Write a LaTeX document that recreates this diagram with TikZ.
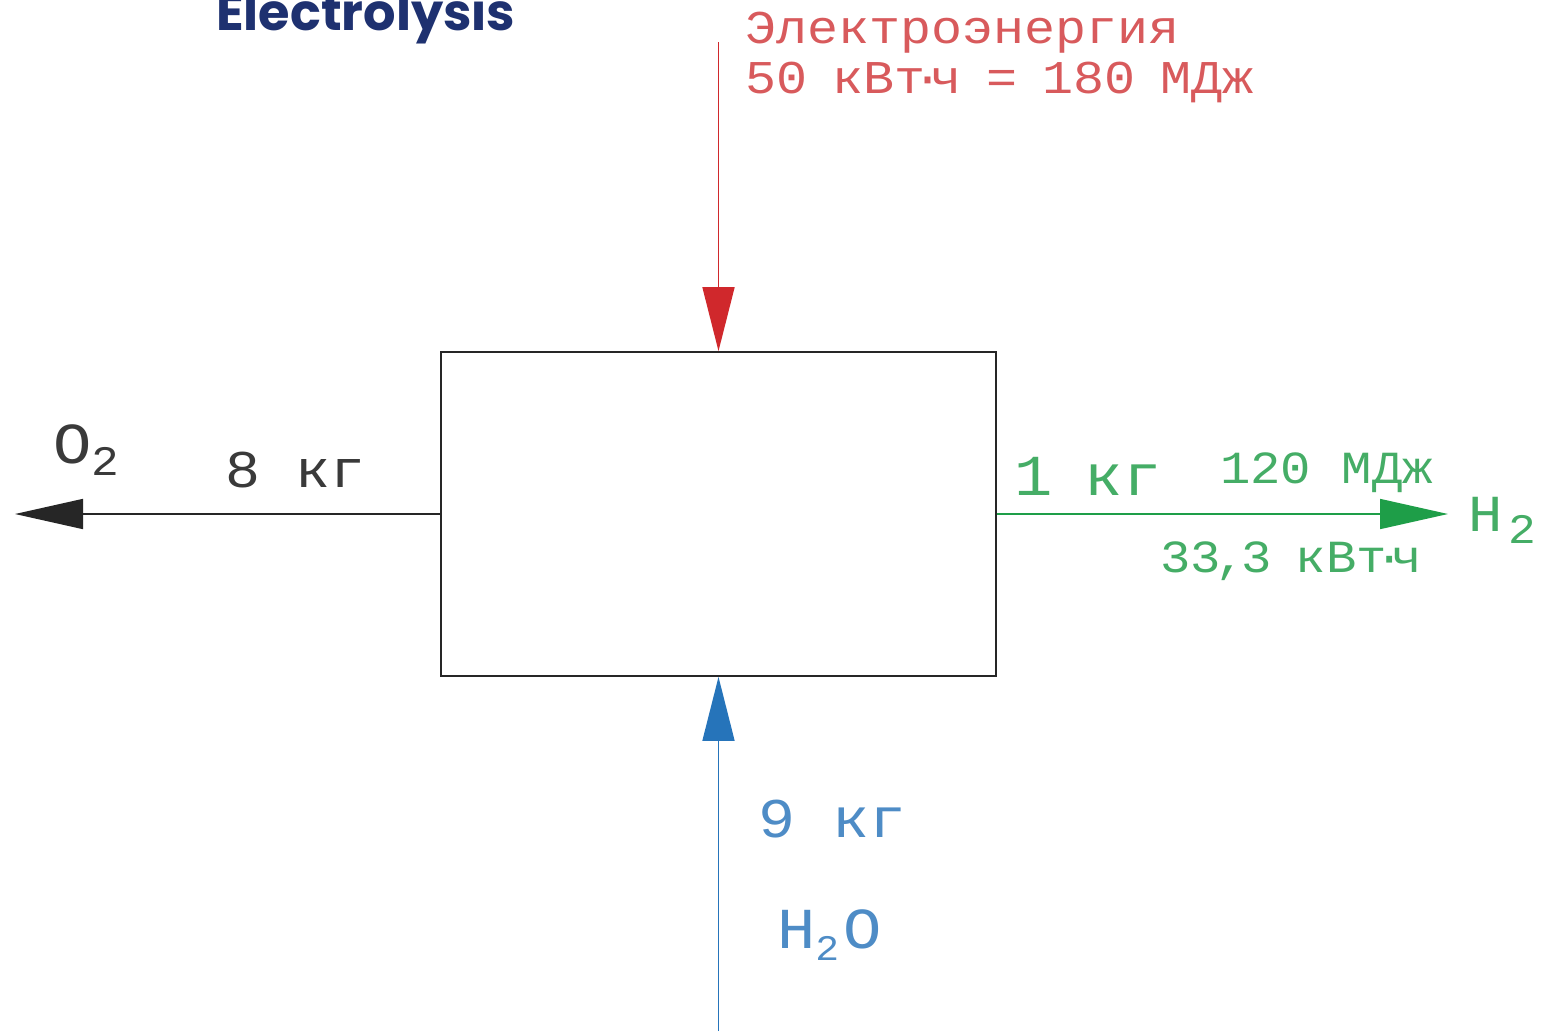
\documentclass[tikz,border=0pt]{standalone}
\usepackage{fontspec}
\usetikzlibrary{arrows.meta}
\newfontfamily\cadfont[FakeStretch=1.1]{Liberation Mono}
\newfontfamily\titlefont{Poppins}
\definecolor{redc}{HTML}{D0282C}
\definecolor{redt}{HTML}{D85A5C}
\definecolor{greenc}{HTML}{1E9E48}
\definecolor{greent}{HTML}{45AD66}
\definecolor{bluec}{HTML}{2674BA}
\definecolor{bluet}{HTML}{4E8CC6}
\definecolor{blackt}{HTML}{3A3A3A}
\definecolor{navy}{HTML}{1E3170}
\newcommand\cadsub[3]{{\fontsize{#1}{#1}\selectfont\raisebox{#2}{#3}}}
\newcommand\dotkern{\kern-13pt·\kern-13pt}
\newcommand\tsp{ \kern-6pt}
\begin{document}
\begin{tikzpicture}[x=1pt,y=-1pt,
  lbl/.style={anchor=base west, inner sep=0pt},
  flow/.style={line width=1.6pt},
  tipv/.style={-{Triangle[length=64pt,width=32pt]}},
  tiph/.style={-{Triangle[length=68pt,width=30pt]}}]
\useasboundingbox (0,0) rectangle (1549,1031);
\fill[white] (0,0) rectangle (1549,1031);
\node[draw=black!85, line width=1.8pt, minimum width=555pt, minimum height=324pt, inner sep=0pt] (box) at (718.5,514) {};
\coordinate (etop) at (718.5,42);
\coordinate (wbot) at (718.5,1031);
\coordinate (o2end) at (15,514);
\coordinate (h2end) at (1448,514);
\draw[flow, redc, tipv] (etop) -- (box.north);
\draw[flow, bluec, tipv] (wbot) -- (box.south);
\draw[flow, black!85, tiph] (box.west) -- (o2end);
\draw[flow, greenc, tiph] (box.east) -- (h2end);
% title
\node[lbl, text=navy, font=\titlefont\bfseries\fontsize{51}{51}\selectfont] (title) at (216,30) {Electrolysis};
% red
\node[lbl, text=redt, font=\cadfont\fontsize{47}{47}\selectfont] (e1) at (745,43) {Электроэнергия};
\node[lbl, text=redt, font=\cadfont\fontsize{47}{47}\selectfont] (e2) at (745,93) {50\tsp кВт\dotkern ч\tsp =\tsp 180\tsp МДж};
% black
\node[lbl, text=blackt, font=\cadfont\fontsize{58}{58}\selectfont] (o2) at (53,463) {O\cadsub{42}{-12pt}{2}};
\node[lbl, text=blackt, font=\cadfont\fontsize{53}{53}\selectfont] (m8) at (225,487) {8 кг};
% green
\node[lbl, text=greent, font=\cadfont\fontsize{58}{58}\selectfont] (m1) at (1014,495) {1\tsp кг};
\node[lbl, text=greent, font=\cadfont\fontsize{46}{46}\selectfont] (q120) at (1220,483) {120 МДж};
\node[lbl, text=greent, font=\cadfont\fontsize{46}{46}\selectfont] (q33) at (1160,572) {33\kern-5pt,\kern-5pt3\tsp кВт\dotkern ч};
\node[lbl, text=greent, font=\cadfont\fontsize{52}{52}\selectfont] (h2) at (1468,531) {H\kern6pt\cadsub{42}{-12pt}{2}};
% blue
\node[lbl, text=bluet, font=\cadfont\fontsize{56}{56}\selectfont] (m9) at (758,837) {9 кг};
\node[lbl, text=bluet, font=\cadfont\fontsize{58}{58}\selectfont] (h2o) at (777,948) {H\cadsub{36}{-12pt}{2}\kern4pt O};
\end{tikzpicture}
\end{document}
